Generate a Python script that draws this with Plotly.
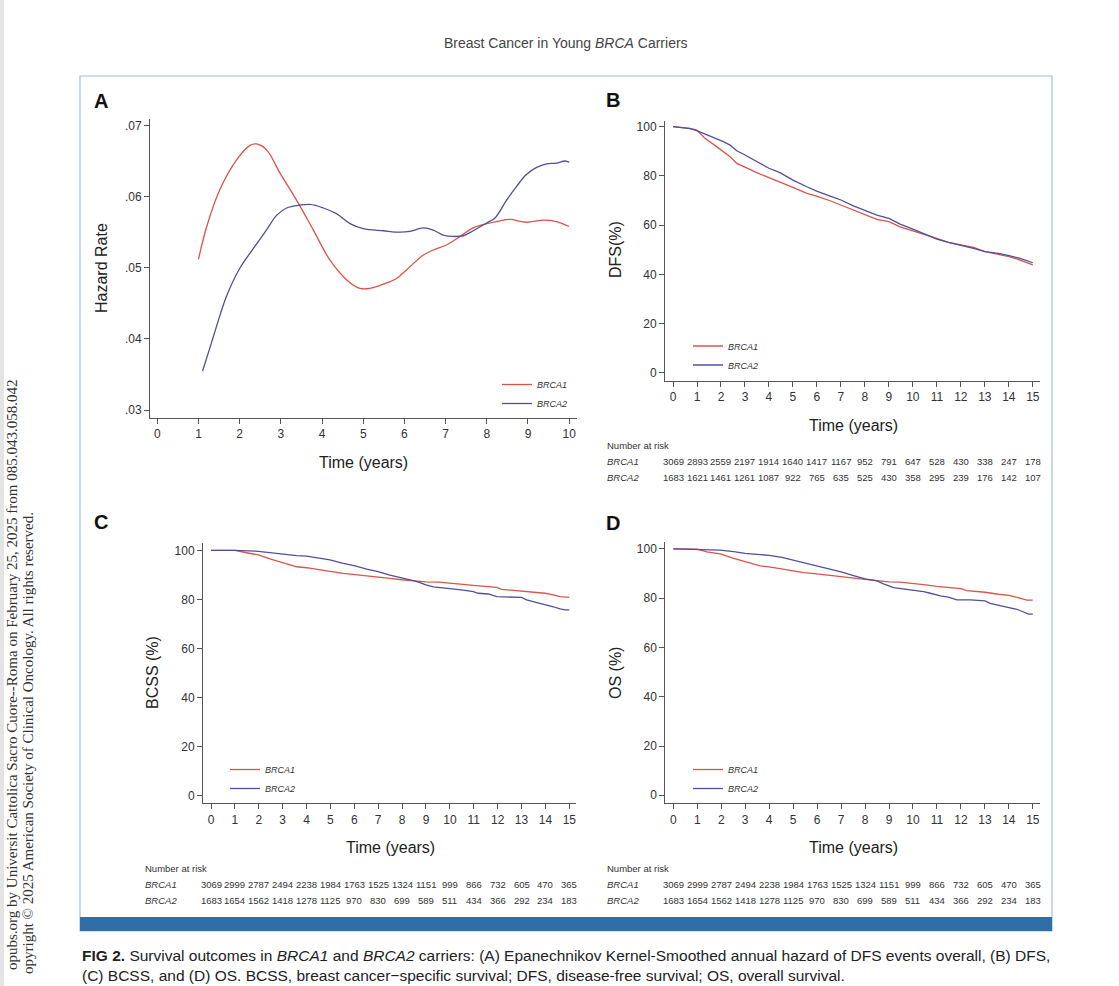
import plotly.graph_objects as go

W, H = 1119, 986
def px(x): return x / W
def py(y): return 1 - y / H

SANS = "Liberation Sans, Arial, Helvetica, sans-serif"
SERIF = "Liberation Serif, Times New Roman, serif"

series = ["BRCA1", "BRCA2"]
colors = {"BRCA1": "#da5448", "BRCA2": "#50509c"}

# ---- Panel A: kernel-smoothed hazard ----
hazA_t1 = [1.0, 1.2, 1.52, 1.93, 2.25, 2.41, 2.65, 2.98, 3.38, 3.79, 4.19, 4.6, 4.92, 5.16,
           5.49, 5.81, 6.05, 6.46, 6.7, 7.02, 7.35, 7.67, 8.0, 8.24, 8.56, 8.96, 9.37, 9.69, 10.0]
hazA_v1 = [.0512, .0558, .0610, .0652, .0672, .0674, .0666, .0633, .0595, .0553, .0511, .0483,
           .0471, .0471, .0477, .0485, .0497, .0518, .0525, .0532, .0544, .0556, .0562, .0565,
           .0568, .0564, .0567, .0565, .0558]
hazA_t2 = [1.1, 1.36, 1.68, 2.0, 2.33, 2.65, 2.9, 3.14, 3.46, 3.71, 4.03, 4.35, 4.68, 5.0, 5.49,
           5.89, 6.13, 6.46, 6.7, 6.94, 7.18, 7.43, 7.67, 8.0, 8.2, 8.48, 8.72, 8.96, 9.21, 9.45,
           9.69, 9.9, 10.0]
hazA_v2 = [.0355, .0403, .0460, .0499, .0527, .0553, .0574, .0584, .0588, .0589, .0584, .0576,
           .0562, .0555, .0552, .0550, .0551, .0556, .0553, .0546, .0544, .0545, .0552, .0563,
           .0570, .0595, .0614, .0631, .0641, .0646, .0647, .0650, .0648]
hazA_ticks = [0.03, 0.04, 0.05, 0.06, 0.07]
hazA_ticktext = [".03", ".04", ".05", ".06", ".07"]

# ---- Panel B: DFS ----
dfs_t1 = [0, 0.71, 0.99, 1.33, 1.82, 2.38, 2.66, 3.0, 3.49, 4.0, 4.6, 5.0, 5.58, 5.99, 6.55, 7.0,
          7.52, 8.0, 8.5, 9.0, 9.47, 10.0, 10.44, 11.0, 11.48, 12.0, 12.53, 13.01, 13.57, 14.01,
          14.47, 15.0]
dfs_v1 = [100, 99.3, 98.6, 95.3, 91.9, 87.8, 85.1, 83.5, 81.3, 79.3, 77.0, 75.3, 72.9, 71.8, 69.9,
          68.2, 66.1, 64.1, 62.3, 61.4, 59.3, 57.7, 56.4, 54.6, 53.0, 51.9, 50.9, 49.2, 48.2, 47.2,
          45.8, 43.8]
dfs_t2 = [0, 0.71, 0.99, 1.33, 1.82, 2.1, 2.38, 2.66, 3.0, 3.49, 4.0, 4.46, 5.0, 5.58, 5.99, 6.55,
          7.0, 7.52, 8.0, 8.5, 9.0, 9.47, 10.0, 10.44, 11.0, 11.48, 12.0, 12.53, 13.01, 13.57,
          14.01, 14.47, 15.0]
dfs_v2 = [100, 99.2, 98.4, 97.0, 95.3, 93.9, 92.5, 90.2, 88.5, 85.8, 83.1, 81.3, 78.3, 75.6, 73.8,
          71.8, 70.2, 67.8, 66.1, 64.1, 62.7, 60.4, 58.4, 56.6, 54.3, 53.0, 51.9, 50.5, 49.2, 48.5,
          47.6, 46.5, 44.7]

# ---- Panel C: BCSS ----
bcss_t1 = [0, 1.0, 1.49, 1.98, 2.47, 3.0, 3.59, 4.0, 4.49, 4.98, 5.54, 5.99, 6.52, 7.0, 7.49, 7.98,
           8.47, 8.99, 9.52, 10.0, 10.56, 10.98, 11.47, 11.96, 12.17, 12.52, 13.0, 13.49, 13.98,
           14.33, 14.61, 15.0]
bcss_v1 = [100, 100, 99.0, 98.1, 96.5, 95.0, 93.3, 92.9, 92.0, 91.4, 90.6, 90.2, 89.7, 89.0, 88.6,
           88.0, 87.6, 87.1, 87.0, 86.7, 86.1, 85.7, 85.3, 84.9, 84.1, 83.8, 83.6, 83.0, 82.5, 81.8,
           81.1, 80.8]
bcss_t2 = [0, 1.0, 1.98, 2.47, 3.0, 3.59, 4.0, 4.49, 4.98, 5.54, 5.99, 6.52, 7.0, 7.49, 7.98, 8.47,
           8.75, 8.99, 9.31, 9.73, 10.0, 10.56, 10.98, 11.19, 11.61, 11.96, 12.52, 13.0, 13.21,
           13.49, 13.98, 14.33, 14.61, 14.82, 15.0]
bcss_v2 = [100, 100, 99.6, 99.0, 98.4, 97.8, 97.6, 96.7, 96.1, 94.7, 93.8, 92.3, 91.3, 89.9, 88.9,
           87.6, 86.8, 85.9, 85.1, 84.8, 84.4, 83.8, 83.2, 82.5, 82.2, 81.1, 81.1, 80.8, 79.8, 79.1,
           78.0, 77.0, 76.1, 75.7, 75.7]

# ---- Panel D: OS ----
os_t1 = [0, 0.99, 1.4, 1.96, 2.52, 3.0, 3.63, 4.0, 4.6, 5.0, 5.44, 5.99, 6.55, 7.0, 7.52, 8.0, 8.5,
         9.0, 9.47, 10.0, 10.44, 11.0, 11.48, 12.0, 12.25, 12.53, 13.01, 13.57, 14.01, 14.47,
         14.75, 15.0]
os_v1 = [100, 99.9, 98.8, 98.0, 96.2, 94.9, 93.1, 92.7, 91.7, 91.1, 90.4, 89.9, 89.2, 88.8, 88.1,
         87.6, 87.1, 86.6, 86.5, 86.1, 85.5, 84.8, 84.3, 83.9, 83.1, 82.9, 82.4, 81.6, 81.1, 80.0,
         79.2, 79.2]
os_t2 = [0, 0.99, 1.96, 2.52, 3.0, 3.49, 4.0, 4.53, 5.0, 5.58, 5.99, 6.55, 7.0, 7.52, 8.0, 8.5,
         8.77, 9.19, 9.61, 10.0, 10.44, 10.72, 11.14, 11.48, 11.83, 12.39, 13.01, 13.22, 13.64,
         14.01, 14.33, 14.61, 14.82, 15.0]
os_v2 = [100, 99.9, 99.5, 98.9, 98.2, 97.8, 97.4, 96.6, 95.5, 93.9, 93.1, 91.7, 90.7, 89.2, 87.8,
         87.0, 85.8, 84.3, 83.8, 83.1, 82.7, 82.0, 80.9, 80.4, 79.3, 79.3, 78.9, 77.9, 76.9, 76.3,
         75.5, 74.4, 73.5, 73.5]

surv_ticks = [0, 20, 40, 60, 80, 100]
risk_times = list(range(0, 16))
risk_dfs_1 = [3069, 2893, 2559, 2197, 1914, 1640, 1417, 1167, 952, 791, 647, 528, 430, 338, 247, 178]
risk_dfs_2 = [1683, 1621, 1461, 1261, 1087, 922, 765, 635, 525, 430, 358, 295, 239, 176, 142, 107]
risk_os_1 = [3069, 2999, 2787, 2494, 2238, 1984, 1763, 1525, 1324, 1151, 999, 866, 732, 605, 470, 365]
risk_os_2 = [1683, 1654, 1562, 1418, 1278, 1125, 970, 830, 699, 589, 511, 434, 366, 292, 234, 183]

fig = go.Figure()

panels = [
    ("x", "y", "legend", hazA_t1, hazA_v1, hazA_t2, hazA_v2, "spline"),
    ("x2", "y2", "legend2", dfs_t1, dfs_v1, dfs_t2, dfs_v2, "linear"),
    ("x3", "y3", "legend3", bcss_t1, bcss_v1, bcss_t2, bcss_v2, "linear"),
    ("x4", "y4", "legend4", os_t1, os_v1, os_t2, os_v2, "linear"),
]
for xa, ya, lg, t1, v1, t2, v2, shape in panels:
    for name, t, v in ((series[0], t1, v1), (series[1], t2, v2)):
        fig.add_trace(go.Scatter(
            x=t, y=v, mode="lines", name=name, xaxis=xa, yaxis=ya, legend=lg,
            line=dict(color=colors[name], width=1.3, shape=shape),
            hoverinfo="skip"))

axis_common = dict(showline=True, linecolor="#555555", linewidth=1, ticks="outside",
                   ticklen=5, tickcolor="#555555", showgrid=False, zeroline=False,
                   tickfont=dict(family=SANS, size=12, color="#333333"))

fig.update_layout(
    width=W, height=H, margin=dict(l=0, r=0, t=0, b=0),
    paper_bgcolor="white", plot_bgcolor="white",
    xaxis=dict(domain=[px(150), px(577)], range=[-0.177, 10.19], tickvals=list(range(0, 11)),
               anchor="y", **axis_common),
    yaxis=dict(domain=[py(418), py(119)], range=[0.0289, 0.0709], tickvals=hazA_ticks,
               ticktext=hazA_ticktext, anchor="x", **axis_common),
    xaxis2=dict(domain=[px(665), px(1040)], range=[-0.334, 15.30], tickvals=risk_times,
                anchor="y2", **axis_common),
    yaxis2=dict(domain=[py(380.7), py(120.7)], range=[-3.25, 102.44], tickvals=surv_ticks,
                anchor="x2", **axis_common),
    xaxis3=dict(domain=[px(203), px(576)], range=[-0.335, 15.28], tickvals=risk_times,
                anchor="y3", **axis_common),
    yaxis3=dict(domain=[py(803.3), py(542.7)], range=[-3.1, 103.1], tickvals=surv_ticks,
                anchor="x3", **axis_common),
    xaxis4=dict(domain=[px(665.3), px(1040)], range=[-0.334, 15.30], tickvals=risk_times,
                anchor="y4", **axis_common),
    yaxis4=dict(domain=[py(803.3), py(542)], range=[-3.25, 102.8], tickvals=surv_ticks,
                anchor="x4", **axis_common),
)

leg_common = dict(bgcolor="rgba(0,0,0,0)", borderwidth=0, itemwidth=30, tracegroupgap=0,
                  font=dict(family=SANS, size=9, color="#333333", style="italic"),
                  xanchor="left", yanchor="top", traceorder="normal", itemclick=False,
                  itemdoubleclick=False)
fig.update_layout(
    legend=dict(x=px(497), y=py(370), **leg_common),
    legend2=dict(x=px(688), y=py(331.5), **leg_common),
    legend3=dict(x=px(225), y=py(755), **leg_common),
    legend4=dict(x=px(688), y=py(755), **leg_common),
)

ann = []
def text(x, y, s, size=12, family=SANS, color="#222222", xanchor="center", yanchor="middle",
         angle=0, xref="paper"):
    ann.append(dict(x=x, y=y, xref=xref, yref="paper", text=s, showarrow=False,
                    xanchor=xanchor, yanchor=yanchor, textangle=angle,
                    font=dict(family=family, size=size, color=color)))

# header
text(px(566), py(43), "Breast Cancer in Young <i>BRCA</i> Carriers", size=14, color="#444444")
# panel letters
for lab, x, y in (("A", 100.5, 101), ("B", 613, 100), ("C", 100.5, 522), ("D", 613, 523)):
    text(px(x), py(y), "<b>%s</b>" % lab, size=20, color="#111111")
# axis titles
for s, x, y in (("Time (years)", 363, 462), ("Time (years)", 853, 425),
                ("Time (years)", 390, 847), ("Time (years)", 853, 847)):
    text(px(x), py(y), s, size=16, color="#222222")
for s, x, y in (("Hazard Rate", 102, 268), ("DFS(%)", 615, 250), ("BCSS (%)", 152, 673),
                ("OS (%)", 615, 673)):
    text(px(x), py(y), s, size=16, color="#222222", angle=-90)

# number at risk tables
for xref, lx, ytitle, r1, r2 in (("x2", 605, 445.7, risk_dfs_1, risk_dfs_2),
                                 ("x3", 143, 868.3, risk_os_1, risk_os_2),
                                 ("x4", 605, 868.3, risk_os_1, risk_os_2)):
    text(px(lx), py(ytitle), "Number at risk", size=9.5, color="#333333", xanchor="left")
    for row_y, name, vals in ((ytitle + 15.8, series[0], r1), (ytitle + 31.8, series[1], r2)):
        text(px(lx), py(row_y), "<i>%s</i>" % name, size=9.5, color="#333333", xanchor="left")
        for t, n in zip(risk_times, vals):
            text(t, py(row_y), str(n), size=9.5, color="#333333", xref=xref)

# caption
text(px(80), py(955), "<b>FIG 2.</b> Survival outcomes in <i>BRCA1</i> and <i>BRCA2</i> carriers: "
     "(A) Epanechnikov Kernel-Smoothed annual hazard of DFS events overall, (B) DFS,",
     size=15.5, color="#222222", xanchor="left")
text(px(80), py(975), "(C) BCSS, and (D) OS. BCSS, breast cancer\u2212specific survival; "
     "DFS, disease-free survival; OS, overall survival.",
     size=15.5, color="#222222", xanchor="left")

# side download notice
text(px(12), py(378), "opubs.org by Universit Cattolica Sacro Cuore--Roma on February 25, 2025 from 085.043.058.042",
     size=15, family=SERIF, color="#333333", angle=-90, yanchor="top")
text(px(28), py(510), "opyright \u00a9 2025 American Society of Clinical Oncology. All rights reserved.",
     size=15, family=SERIF, color="#333333", angle=-90, yanchor="top")

fig.update_layout(annotations=ann)

fig.update_layout(shapes=[
    dict(type="rect", xref="paper", yref="paper", x0=px(0), x1=px(4), y0=py(986), y1=py(0),
         fillcolor="#e4e4e4", line=dict(width=0), layer="below"),
    dict(type="rect", xref="paper", yref="paper", x0=px(80), x1=px(1052), y0=py(931), y1=py(76),
         fillcolor="rgba(0,0,0,0)", line=dict(color="#9ec2dd", width=1.2), layer="below"),
    dict(type="rect", xref="paper", yref="paper", x0=px(80), x1=px(1052), y0=py(931), y1=py(917),
         fillcolor="#2f6ea6", line=dict(width=0), layer="below"),
])

fig.write_html("out.html", config={"displayModeBar": False},
               post_script="document.body.style.margin='0';document.body.style.padding='0';")
